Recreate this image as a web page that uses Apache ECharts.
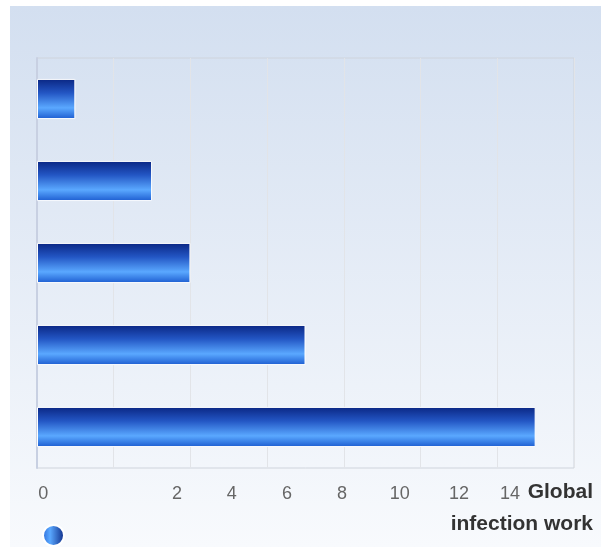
<!DOCTYPE html>
<html>
<head>
<meta charset="utf-8">
<script src="https://cdn.jsdelivr.net/npm/echarts@6/dist/echarts.min.js"></script>
<style>
html,body{margin:0;padding:0;background:#fff;}
#c{position:absolute;left:10px;top:6px;width:591px;height:541px;}
</style>
</head>
<body>
<div id="c"></div>
<script>
const categories = ['Item 1', 'Item 2', 'Item 3', 'Item 4', 'Item 5'];
const values = [1, 3, 4, 7, 13];
const tickLabels = ['0', '2', '4', '6', '8', '10', '12', '14'];
const seriesName = 'Global infection work';

// layout: where the reference draws each tick label (in axis units)
const labelAnchors = [0.16, 3.65, 5.08, 6.52, 7.95, 9.46, 11.0, 12.33];

const chart = echarts.init(document.getElementById('c'));
const barGrad = new echarts.graphic.LinearGradient(0, 0, 0, 1, [
  {offset: 0, color: '#0a2683'},
  {offset: 0.35, color: '#2356c4'},
  {offset: 0.72, color: '#5aa8ff'},
  {offset: 1, color: '#1c5cd0'}
]);
const legendGrad = new echarts.graphic.LinearGradient(0, 0, 1, 0, [
  {offset: 0, color: '#2a6ad8'},
  {offset: 0.35, color: '#5aa8ff'},
  {offset: 1, color: '#0a2683'}
]);
chart.setOption({
  backgroundColor: new echarts.graphic.LinearGradient(0, 0, 0, 1, [
    {offset: 0, color: '#d3dff0'},
    {offset: 1, color: '#f8fafd'}
  ]),
  animation: false,
  grid: {left: 27, top: 52, right: 27, bottom: 79, show: true, borderColor: '#cfd4dc', borderWidth: 1, backgroundColor: 'transparent'},
  legend: {
    left: 27, top: 513, itemWidth: 21, itemHeight: 21, icon: 'circle',
    formatter: () => '',
    data: [{name: seriesName, itemStyle: {color: legendGrad}}]
  },
  xAxis: [{
    type: 'value', min: 0, max: 14, interval: 2,
    axisLine: {show: false}, axisTick: {show: false},
    axisLabel: {show: false},
    splitLine: {show: true, lineStyle: {color: '#e2e4e8', width: 1}},
    name: 'Global\ninfection work', nameLocation: 'end', nameGap: 19,
    nameTextStyle: {fontFamily: 'Liberation Sans', fontSize: 21, fontWeight: 'bold', color: '#333', align: 'right', verticalAlign: 'top', lineHeight: 32, padding: [8, 0, 0, 0]}
  }, {
    type: 'value', min: 0, max: 14, position: 'bottom',
    axisLine: {show: false}, axisTick: {show: false}, splitLine: {show: false},
    axisLabel: {
      show: true, customValues: labelAnchors, margin: 17,
      fontFamily: 'Liberation Sans', fontSize: 18, color: '#666',
      formatter: (v) => tickLabels[labelAnchors.indexOf(v)]
    }
  }],
  yAxis: {
    type: 'category', data: categories, inverse: true,
    axisLine: {show: true, lineStyle: {color: '#c8d0e2', width: 2}},
    axisTick: {show: false}, axisLabel: {show: false}, splitLine: {show: false}
  },
  series: [{
    name: seriesName, type: 'bar', data: values, xAxisIndex: 0,
    barWidth: '49%',
    itemStyle: {color: barGrad, borderColor: '#ffffff', borderWidth: 1}
  }]
});
</script>
</body>
</html>
